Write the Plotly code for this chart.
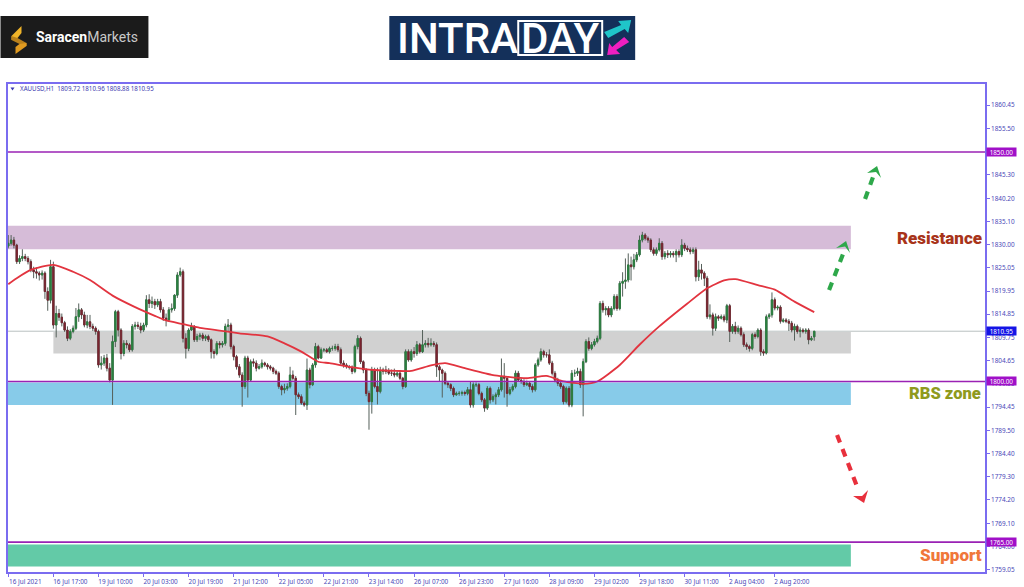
import plotly.graph_objects as go

symbol_line = "XAUUSD,H1  1809.72 1810.96 1808.88 1810.95"

opens = [
1829.5,1830.1,1830.8,1829.7,1826.1,1826.8,1827.2,1826.8,1826.1,1824.3,
1823.9,1823.6,1823.2,1823.6,1819.6,1817.7,1825.0,1812.3,1814.8,1814.0,
1812.8,1811.2,1809.4,1810.9,1811.6,1814.1,1815.6,1814.5,1812.3,1813.0,
1812.0,1811.6,1810.9,1803.6,1804.0,1805.1,1802.9,1800.3,1808.7,1815.2,
1811.2,1806.1,1808.3,1808.0,1806.9,1812.0,1812.3,1812.0,1811.2,1812.3,
1817.8,1817.0,1817.4,1816.7,1817.4,1815.6,1813.8,1813.4,1815.6,1815.9,
1818.8,1823.2,1823.9,1809.4,1807.2,1811.2,1812.0,1809.1,1809.8,1810.1,
1809.4,1809.8,1809.1,1806.5,1806.1,1808.3,1808.0,1808.3,1812.0,1812.3,
1807.6,1805.4,1803.2,1801.4,1798.9,1805.1,1800.3,1804.3,1804.0,1802.9,
1803.2,1804.0,1803.6,1803.2,1802.9,1802.2,1801.8,1798.9,1798.2,1798.5,
1798.9,1801.4,1800.7,1797.1,1796.7,1795.3,1794.9,1802.5,1799.3,1803.6,
1807.6,1805.1,1806.9,1806.9,1806.5,1807.2,1807.2,1807.6,1806.9,1804.0,
1803.6,1803.2,1803.1,1802.2,1807.6,1809.4,1804.3,1802.5,1797.4,1795.6,
1802.5,1798.9,1797.8,1802.2,1802.5,1802.2,1801.8,1801.8,1801.4,1801.8,
1800.7,1798.9,1806.5,1804.7,1806.5,1806.1,1808.0,1806.5,1808.0,1808.3,
1808.0,1808.3,1808.0,1803.2,1802.5,1801.8,1799.6,1799.3,1798.5,1797.1,
1797.4,1797.4,1797.6,1797.4,1798.2,1794.9,1799.3,1799.3,1797.4,1796.0,
1794.2,1798.5,1796.0,1796.7,1797.1,1798.2,1801.1,1800.7,1797.4,1798.2,
1798.9,1801.8,1800.3,1800.0,1799.3,1799.6,1798.9,1798.2,1803.6,1804.7,
1806.5,1805.8,1805.8,1804.0,1801.8,1800.3,1799.6,1798.9,1795.6,1798.5,
1794.9,1801.8,1801.8,1802.2,1799.3,1804.3,1808.7,1807.2,1808.0,1808.7,
1809.4,1817.0,1815.6,1815.9,1814.5,1815.9,1818.5,1815.9,1821.4,1821.8,
1822.1,1825.4,1825.0,1826.5,1827.6,1830.8,1831.9,1831.2,1830.8,1828.7,
1827.9,1828.7,1830.1,1827.2,1827.9,1827.6,1827.9,1827.6,1828.3,1827.6,
1829.7,1829.0,1828.7,1828.3,1828.7,1822.8,1824.3,1823.6,1822.5,1814.1,
1814.5,1811.6,1814.1,1813.8,1814.1,1813.4,1816.5,1810.9,1812.0,1810.9,
1811.6,1810.2,1808.0,1807.6,1807.2,1810.2,1809.8,1811.2,1806.5,1806.2,
1814.1,1814.5,1817.8,1816.0,1816.2,1813.1,1813.4,1813.1,1812.7,1811.2,
1812.0,1810.9,1811.2,1810.9,1811.2,1809.1,1809.72,
]
highs = [
1831.9,1831.9,1831.5,1830.0,1827.5,1828.8,1827.8,1827.3,1826.6,1825.0,
1824.8,1824.0,1824.2,1824.0,1820.5,1826.5,1826.1,1816.5,1815.8,1814.8,
1813.2,1812.0,1811.4,1812.2,1816.0,1817.0,1816.0,1815.2,1814.5,1814.5,
1812.6,1812.0,1811.3,1805.5,1805.8,1806.0,1804.0,1810.0,1815.6,1815.6,
1811.6,1809.0,1809.0,1808.4,1812.5,1813.0,1813.0,1812.8,1812.8,1818.8,
1819.0,1818.5,1818.0,1818.0,1818.0,1816.2,1814.8,1816.2,1817.0,1819.0,
1823.8,1824.8,1824.4,1810.5,1811.6,1812.8,1812.3,1810.4,1810.6,1810.6,
1810.2,1810.2,1809.4,1807.0,1808.8,1808.8,1808.8,1812.6,1813.6,1812.8,
1808.0,1805.8,1803.8,1802.0,1805.6,1805.6,1804.8,1805.0,1804.6,1803.8,
1804.8,1804.3,1804.0,1803.6,1803.2,1802.6,1802.2,1799.3,1799.5,1799.6,
1803.2,1802.4,1801.2,1797.6,1797.2,1795.8,1805.0,1803.0,1804.0,1808.4,
1808.0,1807.4,1807.3,1807.3,1807.6,1807.8,1808.2,1808.2,1807.4,1804.6,
1804.0,1803.6,1803.5,1808.0,1810.1,1809.8,1804.6,1802.9,1798.0,1803.2,
1803.0,1803.0,1803.2,1803.0,1803.4,1802.9,1802.6,1802.8,1802.4,1802.2,
1801.0,1807.0,1807.0,1807.0,1807.5,1808.8,1808.4,1811.2,1809.0,1809.5,
1809.4,1808.8,1808.5,1803.6,1802.8,1802.2,1800.0,1799.6,1798.9,1797.8,
1797.9,1798.0,1798.0,1798.8,1800.0,1799.8,1799.8,1799.7,1797.8,1796.4,
1799.0,1798.9,1797.2,1797.6,1798.8,1805.0,1804.0,1801.2,1798.8,1799.4,
1802.4,1802.3,1800.8,1800.5,1800.2,1800.1,1799.4,1804.0,1805.2,1807.2,
1806.9,1806.4,1807.0,1804.5,1802.3,1800.8,1800.0,1799.3,1798.9,1799.0,
1802.5,1802.6,1803.0,1802.8,1805.0,1809.2,1809.6,1808.6,1809.3,1810.0,
1817.5,1817.6,1816.4,1816.4,1816.4,1819.0,1819.0,1821.9,1823.8,1826.8,
1827.9,1827.2,1827.8,1828.2,1831.8,1832.6,1832.3,1831.6,1831.2,1829.2,
1829.2,1831.2,1830.6,1828.4,1828.6,1828.4,1828.4,1828.8,1828.8,1831.0,
1830.2,1829.6,1829.2,1829.2,1829.2,1826.3,1825.6,1824.0,1823.0,1816.8,
1815.0,1814.8,1814.5,1814.6,1814.6,1816.9,1816.9,1812.5,1813.0,1812.2,
1812.0,1810.7,1808.5,1808.0,1810.6,1810.7,1811.6,1811.6,1807.0,1814.6,
1814.9,1819.4,1818.3,1816.6,1816.6,1813.8,1813.8,1813.6,1813.2,1812.6,
1812.4,1811.8,1811.6,1811.6,1811.6,1809.9,1810.96,
]
lows = [
1829.0,1829.6,1829.0,1825.6,1825.6,1826.2,1826.2,1825.5,1823.8,1822.5,
1822.4,1822.0,1822.2,1818.0,1815.4,1817.0,1811.5,1809.6,1813.2,1812.0,
1810.8,1808.8,1809.0,1810.5,1811.2,1813.0,1813.6,1811.8,1811.6,1811.4,
1811.0,1810.2,1803.0,1802.6,1803.4,1802.2,1799.8,1794.9,1807.5,1809.8,
1804.8,1805.5,1807.2,1806.4,1806.5,1811.3,1811.4,1810.5,1810.8,1811.8,
1816.0,1816.0,1815.8,1816.2,1815.0,1813.2,1812.0,1813.0,1815.0,1815.4,
1818.2,1822.8,1808.5,1805.0,1806.6,1811.0,1808.6,1808.6,1809.0,1808.8,
1808.8,1808.6,1805.0,1805.0,1805.7,1807.2,1807.4,1807.8,1811.0,1807.0,
1804.6,1802.6,1800.8,1794.5,1798.4,1796.5,1800.0,1803.2,1802.2,1802.6,
1802.8,1803.2,1802.6,1802.4,1801.6,1801.4,1798.4,1797.0,1797.4,1798.0,
1798.5,1800.2,1792.7,1796.2,1794.9,1794.5,1793.8,1798.5,1799.0,1803.0,
1804.8,1804.9,1806.4,1806.2,1806.1,1806.7,1806.7,1806.4,1803.6,1803.0,
1802.8,1802.6,1801.6,1801.8,1807.0,1803.8,1801.8,1796.8,1789.5,1793.0,
1798.5,1795.0,1797.4,1801.5,1801.6,1801.4,1801.2,1800.9,1801.0,1800.3,
1798.3,1798.6,1804.3,1804.3,1805.2,1805.6,1806.1,1806.2,1807.4,1807.4,
1807.6,1807.5,1801.0,1800.0,1796.5,1799.2,1798.6,1797.9,1796.6,1796.9,
1796.9,1796.9,1796.9,1797.0,1794.3,1794.3,1798.8,1797.0,1795.5,1793.4,
1793.8,1795.2,1795.5,1795.0,1796.6,1797.8,1796.5,1794.5,1797.0,1797.8,
1798.5,1799.9,1799.5,1798.8,1799.0,1798.2,1797.6,1797.8,1803.2,1804.3,
1805.2,1805.2,1803.6,1801.3,1799.8,1799.0,1798.4,1795.0,1795.2,1794.4,
1794.4,1801.0,1801.2,1798.6,1792.4,1804.0,1806.7,1806.8,1807.6,1808.3,
1809.0,1815.0,1814.4,1814.0,1814.0,1815.5,1815.4,1815.5,1818.5,1820.2,
1821.6,1822.0,1824.4,1826.0,1827.2,1830.3,1830.7,1830.2,1828.2,1827.4,
1827.4,1828.3,1826.5,1826.6,1826.9,1827.0,1827.0,1826.0,1827.0,1827.1,
1828.4,1828.2,1827.7,1827.8,1821.8,1821.9,1822.2,1820.8,1813.6,1813.5,
1810.0,1811.0,1813.2,1813.5,1812.9,1812.7,1808.6,1810.4,1810.3,1810.4,
1809.8,1807.5,1806.9,1806.5,1806.8,1809.3,1809.4,1805.6,1805.6,1805.9,
1813.6,1813.9,1815.5,1815.5,1812.6,1812.8,1812.7,1811.0,1810.7,1808.9,
1810.4,1809.6,1810.5,1810.4,1808.1,1808.8,1808.88,
]
closes = [
1830.1,1830.8,1829.7,1826.1,1826.8,1827.2,1826.8,1826.1,1824.3,1823.9,
1823.6,1823.2,1823.6,1819.6,1817.7,1825.0,1812.3,1814.8,1814.0,1812.8,
1811.2,1809.4,1810.9,1811.6,1814.1,1815.6,1814.5,1812.3,1813.0,1812.0,
1811.6,1810.9,1803.6,1804.0,1805.1,1802.9,1800.3,1808.7,1815.2,1811.2,
1806.1,1808.3,1808.0,1806.9,1812.0,1812.3,1812.0,1811.2,1812.3,1817.8,
1817.0,1817.4,1816.7,1817.4,1815.6,1813.8,1813.4,1815.6,1815.9,1818.8,
1823.2,1823.9,1809.4,1807.2,1811.2,1812.0,1809.1,1809.8,1810.1,1809.4,
1809.8,1809.1,1806.5,1806.1,1808.3,1808.0,1808.3,1812.0,1812.3,1807.6,
1805.4,1803.2,1801.4,1798.9,1805.1,1800.3,1804.3,1804.0,1802.9,1803.2,
1804.0,1803.6,1803.2,1802.9,1802.2,1801.8,1798.9,1798.2,1798.5,1798.9,
1801.4,1800.7,1797.1,1796.7,1795.3,1794.9,1802.5,1799.3,1803.6,1807.6,
1805.1,1806.9,1806.9,1806.5,1807.2,1807.2,1807.6,1806.9,1804.0,1803.6,
1803.2,1803.1,1802.2,1807.6,1809.4,1804.3,1802.5,1797.4,1795.6,1802.5,
1798.9,1797.8,1802.2,1802.5,1802.2,1801.8,1801.8,1801.4,1801.8,1800.7,
1798.9,1806.5,1804.7,1806.5,1806.1,1808.0,1806.5,1808.0,1808.3,1808.0,
1808.3,1808.0,1803.2,1802.5,1801.8,1799.6,1799.3,1798.5,1797.1,1797.4,
1797.4,1797.6,1797.4,1798.2,1794.9,1799.3,1799.3,1797.4,1796.0,1794.2,
1798.5,1796.0,1796.7,1797.1,1798.2,1801.1,1800.7,1797.4,1798.2,1798.9,
1801.8,1800.3,1800.0,1799.3,1799.6,1798.9,1798.2,1803.6,1804.7,1806.5,
1805.8,1805.8,1804.0,1801.8,1800.3,1799.6,1798.9,1795.6,1798.5,1794.9,
1801.8,1801.8,1802.2,1799.3,1804.3,1808.7,1807.2,1808.0,1808.7,1809.4,
1817.0,1815.6,1815.9,1814.5,1815.9,1818.5,1815.9,1821.4,1821.8,1822.1,
1825.4,1825.0,1826.5,1827.6,1830.8,1831.9,1831.2,1830.8,1828.7,1827.9,
1828.7,1830.1,1827.2,1827.9,1827.6,1827.9,1827.6,1828.3,1827.6,1829.7,
1829.0,1828.7,1828.3,1828.7,1822.8,1824.3,1823.6,1822.5,1814.1,1814.5,
1811.6,1814.1,1813.8,1814.1,1813.4,1816.5,1810.9,1812.0,1810.9,1811.6,
1810.2,1808.0,1807.6,1807.2,1810.2,1809.8,1811.2,1806.5,1806.2,1814.1,
1814.5,1817.8,1816.0,1816.2,1813.1,1813.4,1813.1,1812.7,1811.2,1812.0,
1810.9,1811.2,1810.9,1811.2,1809.1,1809.4,1810.95,
]
bars = list(range(len(closes)))

ma_bars = [0,3,8,16,23,29,37,45,52,56,62,68,75,82,92,98,104,110,114,121,130,138,143,150,155,162,172,176,184,191,197,204,209,217,224,231,241,248,254,258,266,272,279,286]
ma_vals = [1821.2,1822.5,1824.3,1825.4,1823.9,1822.1,1818.7,1816.2,1814.3,1813.3,1812.5,1811.7,1811.1,1810.5,1809.8,1808.3,1806.5,1804.3,1804.0,1803.2,1802.5,1802.3,1802.3,1803.5,1804.0,1802.9,1801.4,1801.1,1800.7,1801.2,1800.0,1799.5,1800.0,1803.6,1808.0,1812.0,1817.0,1820.3,1822.0,1822.3,1821.0,1820.0,1817.4,1815.1]

level_prices = [1850.00, 1800.00, 1765.00]
level_labels = ["1850.00", "1800.00", "1765.00"]
last_price = 1810.95
last_label = "1810.95"

zone_names = ["resistance", "pivot", "rbs", "support"]
zone_lows = [1828.8, 1806.1, 1794.9, 1759.7]
zone_highs = [1833.9, 1810.8, 1799.8, 1764.5]
zone_starts = [-0.1, 16, -0.1, -0.1]
zone_end = 299
zone_colors = ["#d6bcd8", "#d1d1d1", "#87cbe9", "#63caa7"]

y_tick_vals = [1860.2,1855.1,1845.0,1839.9,1834.85,1829.8,1824.75,1819.7,1814.65,1809.6,1804.55,1799.45,1794.4,1789.3,1784.3,1779.25,1774.2,1769.1,1764.05,1759.0]
y_tick_text = ["1860.45","1855.50","1845.30","1840.20","1835.10","1830.00","1825.05","1819.95","1814.85","1809.75","1804.65","1799.55","1794.45","1789.50","1784.40","1779.30","1774.20","1769.10","1764.00","1759.05"]
x_tick_vals = [0,16,32,48,64,80,96,112,128,144,160,176,192,208,224,240,256,272]
x_tick_text = ["16 Jul 2021","16 Jul 17:00","19 Jul 10:00","20 Jul 03:00","20 Jul 19:00","21 Jul 12:00","22 Jul 05:00","22 Jul 21:00","23 Jul 14:00","26 Jul 07:00","26 Jul 23:00","27 Jul 16:00","28 Jul 09:00","29 Jul 02:00","29 Jul 18:00","30 Jul 11:00","2 Aug 04:00","2 Aug 20:00"]

L, R, T, B = 7.5, 985.0, 84.0, 572.0
FONT = "Noto Sans"
AXIS = "#7a6cf0"
TICKTXT = "#4a48b8"


def P(px, py):
    return (px - L) / (R - L), (B - py) / (B - T)


def poly(points, color):
    parts = []
    for k, (px, py) in enumerate(points):
        xp, yp = P(px, py)
        parts.append(("M" if k == 0 else "L") + f"{xp:.5f},{yp:.5f}")
    return dict(type="path", xref="paper", yref="paper", path=" ".join(parts) + " Z",
                fillcolor=color, line=dict(width=0), layer="above")


def seg(p0, p1, color, width, dash=None):
    x0, y0 = P(*p0)
    x1, y1 = P(*p1)
    return dict(type="line", xref="paper", yref="paper", x0=x0, y0=y0, x1=x1, y1=y1,
                line=dict(color=color, width=width, dash=dash), layer="above")


def box(x0, y0, x1, y1, color, line=None):
    a0, b0 = P(x0, y0)
    a1, b1 = P(x1, y1)
    return dict(type="rect", xref="paper", yref="paper", x0=a0, y0=b0, x1=a1, y1=b1,
                fillcolor=color, line=line or dict(width=0), layer="above")


def text(px, py, s, size, color, anchor="left", family=FONT, weight=None, bg=None):
    xp, yp = P(px, py)
    return dict(xref="paper", yref="paper", x=xp, y=yp, text=s, showarrow=False,
                xanchor=anchor, yanchor="middle", bgcolor=bg, borderpad=0,
                font=dict(size=size, color=color, family=family, weight=weight))


body_tops = [max(o, c) for o, c in zip(opens, closes)]
body_bottoms = [min(o, c) for o, c in zip(opens, closes)]

fig = go.Figure()
# wicks, then the bodies on top of them
fig.add_trace(go.Candlestick(
    x=bars, open=opens, high=highs, low=lows, close=closes, name="XAUUSD,H1 wicks",
    increasing=dict(line=dict(color="#55605a", width=1), fillcolor="#55605a"),
    decreasing=dict(line=dict(color="#55605a", width=1), fillcolor="#55605a"),
    whiskerwidth=0, hoverinfo="skip", showlegend=False))
fig.add_trace(go.Candlestick(
    x=bars, open=opens, high=body_tops, low=body_bottoms, close=closes, name="XAUUSD,H1",
    increasing=dict(line=dict(color="#2b8040", width=0.8), fillcolor="#2b8040"),
    decreasing=dict(line=dict(color="#7a2530", width=0.8), fillcolor="#7a2530"),
    whiskerwidth=0, hoverinfo="skip", showlegend=False))
fig.add_trace(go.Scatter(x=ma_bars, y=ma_vals, mode="lines", name="MA",
                         line=dict(color="#e2343f", width=1.8, shape="spline", smoothing=0.6),
                         hoverinfo="skip", showlegend=False))

shapes = []
for low, high, start, color in zip(zone_lows, zone_highs, zone_starts, zone_colors):
    shapes.append(dict(type="rect", xref="x", yref="y", x0=start, x1=zone_end, y0=low, y1=high,
                       fillcolor=color, line=dict(width=0), layer="below"))
shapes.append(dict(type="line", xref="paper", yref="y", x0=0, x1=1, y0=last_price, y1=last_price,
                   line=dict(color="#b9c0c0", width=1), layer="below"))
for price in level_prices:
    shapes.append(dict(type="line", xref="paper", yref="y", x0=0, x1=1, y0=price, y1=price,
                       line=dict(color="#9a22b4", width=1.6), layer="above"))

# drawn scenario arrows
GREEN, RED = "#2ea84a", "#e8303c"
DASH = "8px,7px"
shapes.append(seg((829, 290), (843, 254), GREEN, 4.2, DASH))
shapes.append(poly([(836, 248), (846, 241), (850, 253), (845, 246.5)], GREEN))
shapes.append(seg((865, 199), (873, 177), GREEN, 4.2, DASH))
shapes.append(poly([(867, 173), (877, 166), (881, 178), (876, 172)], GREEN))
shapes.append(seg((837, 435), (858, 489), RED, 4.2, DASH))
shapes.append(poly([(853, 496), (864, 503), (868, 490), (862, 496)], RED))

# Saracen Markets logo
shapes.append(box(0, 16, 148, 58, "#1b1b1b"))
shapes.append(poly([(11, 36), (21, 26), (21, 33), (17, 38), (11, 40)], "#f0b429"))
shapes.append(poly([(11, 36), (17, 38), (26, 43), (26, 46), (19, 44), (11, 40)], "#b9801c"))
shapes.append(poly([(26, 43), (26, 46), (15, 54), (15, 47), (19, 44)], "#e09a20"))

# INTRADAY logo
shapes.append(box(389, 16, 635, 60, "#14305a"))
shapes.append(box(518, 21, 602, 55, "#14305a", dict(color="white", width=2)))
shapes.append(poly([(604, 32), (621, 25), (618, 21), (631, 20), (628, 33), (624.5, 29), (608, 38)], "#1fc5c9"))
shapes.append(poly([(624, 37), (612, 47), (609, 43), (607, 55), (620, 54), (616, 50), (629, 42)], "#ee1fc0"))

annotations = [
    text(35, 37, "<b>Saracen</b><span style='color:#c9c9c9'>Markets</span>", 14, "white", family="Roboto"),
    text(396, 38, "INTRA", 42, "white", family="Roboto", weight=500),
    text(560, 38, "DAY", 42, "white", anchor="center", family="Roboto", weight=500),
    text(19, 89, symbol_line, 6.2, "#3a38b0"),
    text(983, 238, "Resistance", 17, "#a8341a", anchor="right", family="Roboto", weight=900),
    text(982, 393, "RBS zone", 16.5, "#8f9a1e", anchor="right", family="Roboto", weight=900),
    text(983, 555, "Support", 17, "#f0773a", anchor="right", family="Roboto", weight=900),
]
for price, label in zip(level_prices, level_labels):
    annotations.append(dict(xref="paper", yref="y", x=1.0008, y=price, text=label, showarrow=False,
                            xanchor="left", yanchor="middle", bgcolor="#a010c8", borderpad=0,
                            width=29, height=8, align="center",
                            font=dict(size=6.3, color="white", family=FONT)))
annotations.append(dict(xref="paper", yref="y", x=1.0008, y=last_price, text=last_label, showarrow=False,
                        xanchor="left", yanchor="middle", bgcolor="#1414e6", borderpad=0,
                        width=29, height=8, align="center",
                        font=dict(size=6.3, color="white", family=FONT)))
shapes.append(poly([(10, 87.5), (14, 87.5), (12, 90.5)], "#3a38b0"))

fig.update_layout(
    width=1024, height=587, autosize=False,
    margin=dict(l=L, r=1024 - R, t=T, b=587 - B, pad=0),
    paper_bgcolor="white", plot_bgcolor="white", showlegend=False,
    shapes=shapes, annotations=annotations,
    xaxis=dict(range=[-0.1, 346.6], rangeslider=dict(visible=False), showgrid=False, zeroline=False,
               tickmode="array", tickvals=x_tick_vals, ticktext=x_tick_text, ticks="outside", ticklen=3,
               tickcolor=AXIS, tickwidth=1, showline=True, linecolor=AXIS, linewidth=1.5, mirror=True,
               tickfont=dict(size=6.4, color=TICKTXT, family=FONT), tickangle=0, ticklabelshift=17,
               ticklabelstandoff=0, automargin=False),
    yaxis=dict(range=[1758.5, 1864.8], side="right", showgrid=False, zeroline=False,
               tickmode="array", tickvals=y_tick_vals, ticktext=y_tick_text, ticks="outside", ticklen=3,
               tickcolor=AXIS, tickwidth=1, showline=True, linecolor=AXIS, linewidth=1.5, mirror=True,
               tickfont=dict(size=6.4, color=TICKTXT, family=FONT), automargin=False),
)

fig.write_html("out.html", config={"displayModeBar": False},
               post_script="document.body.style.margin='0';document.body.style.overflow='hidden';")
